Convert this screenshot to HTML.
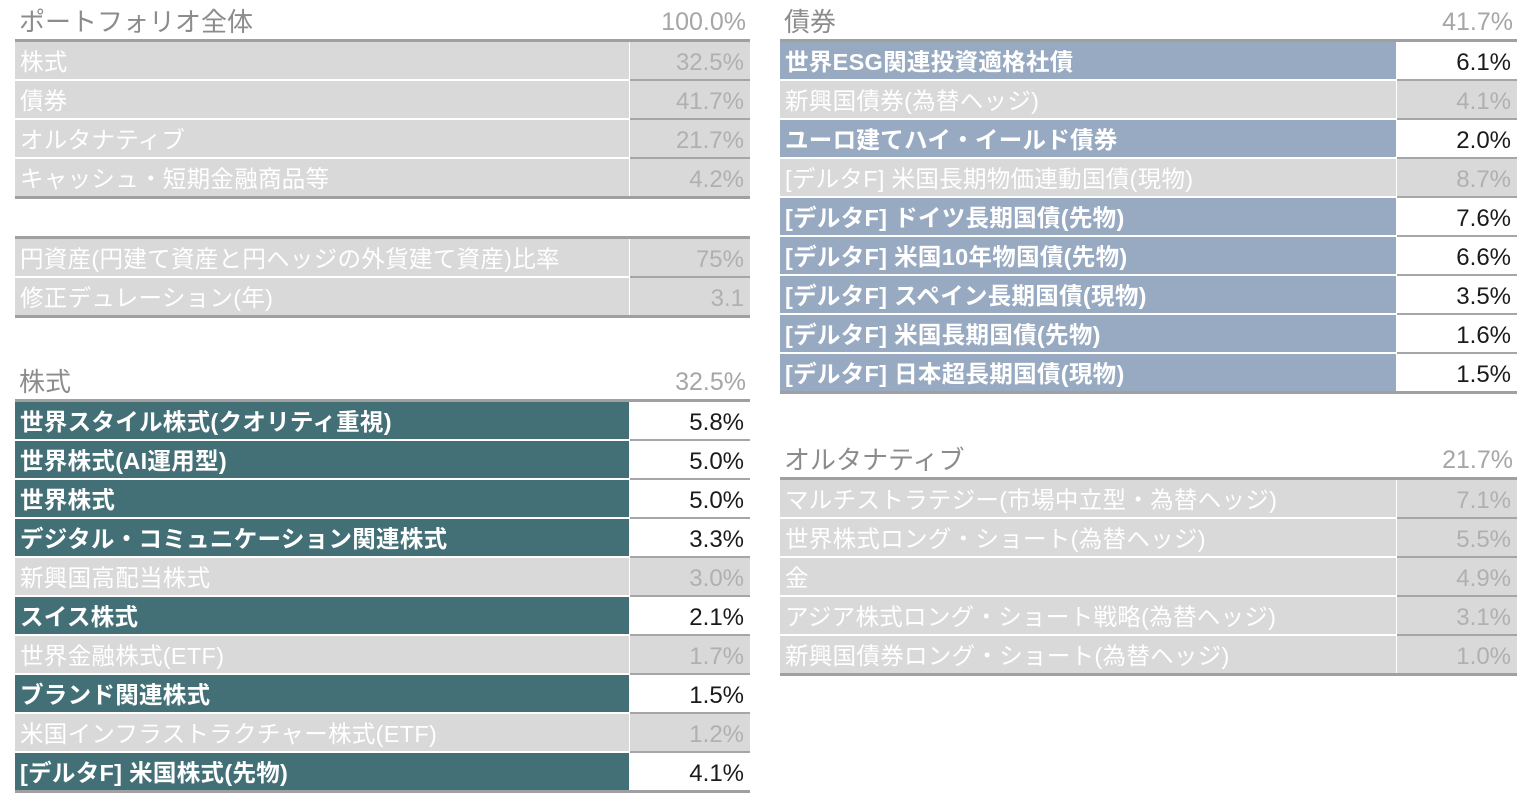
<!DOCTYPE html>
<html><head><meta charset="utf-8">
<style>
body{margin:0;width:1530px;height:802px;background:#fff;position:relative;overflow:hidden;font-family:"Liberation Sans Narrow","Liberation Sans","Noto Sans CJK JP",sans-serif;}
.a{position:absolute;box-sizing:border-box;white-space:nowrap;}
.hd{font-size:26px;color:#8c8c8c;line-height:30px;}
.hv{font-size:25px;color:#a6a6a6;line-height:30px;text-align:right;padding-right:4px;}
.ln{height:3px;background:#a0a0a0;}
.lab{font-size:23.5px;line-height:41px;padding-left:5px;color:#fff;letter-spacing:0.3px;}
.val{font-size:24px;line-height:41px;text-align:right;padding-right:6px;border-bottom:2px solid #a6a6a6;}
.g{background:#d9d9d9;}
.gv{background:#d9d9d9;color:#b0b0b0;}
.t{background:#437077;font-weight:bold;}
.s{background:#98aac2;font-weight:bold;}
.hv2{background:#fff;color:#1a1a1a;}
</style></head><body>
<div id="root"></div>
<script>
const pfLabels=["株式","債券","オルタナティブ","キャッシュ・短期金融商品等"];
const pfValues=["32.5%","41.7%","21.7%","4.2%"];
const exLabels=["円資産(円建て資産と円ヘッジの外貨建て資産)比率","修正デュレーション(年)"];
const exValues=["75%","3.1"];
const eqLabels=["世界スタイル株式(クオリティ重視)","世界株式(AI運用型)","世界株式","デジタル・コミュニケーション関連株式","新興国高配当株式","スイス株式","世界金融株式(ETF)","ブランド関連株式","米国インフラストラクチャー株式(ETF)","[デルタF] 米国株式(先物)"];
const eqValues=["5.8%","5.0%","5.0%","3.3%","3.0%","2.1%","1.7%","1.5%","1.2%","4.1%"];
const eqHi=[1,1,1,1,0,1,0,1,0,1];
const bdLabels=["世界ESG関連投資適格社債","新興国債券(為替ヘッジ)","ユーロ建てハイ・イールド債券","[デルタF] 米国長期物価連動国債(現物)","[デルタF] ドイツ長期国債(先物)","[デルタF] 米国10年物国債(先物)","[デルタF] スペイン長期国債(現物)","[デルタF] 米国長期国債(先物)","[デルタF] 日本超長期国債(現物)"];
const bdValues=["6.1%","4.1%","2.0%","8.7%","7.6%","6.6%","3.5%","1.6%","1.5%"];
const bdHi=[1,0,1,0,1,1,1,1,1];
const alLabels=["マルチストラテジー(市場中立型・為替ヘッジ)","世界株式ロング・ショート(為替ヘッジ)","金","アジア株式ロング・ショート戦略(為替ヘッジ)","新興国債券ロング・ショート(為替ヘッジ)"];
const alValues=["7.1%","5.5%","4.9%","3.1%","1.0%"];

const root=document.getElementById('root');
function el(cls,x,y,w,h,txt){const d=document.createElement('div');d.className='a '+cls;d.style.left=x+'px';d.style.top=y+'px';d.style.width=w+'px';if(h)d.style.height=h+'px';if(txt!==undefined)d.textContent=txt;root.appendChild(d);return d;}
function table(name,x,lw,lineY,title,total,labels,values,hi,hiCls){
  if(title){
    const h=el('hd',x+4,lineY-33,lw,30,title);
    
    
    const hv=el('hv',x+lw,lineY-33,120,30,total);
    
    
  }
  const l=el('ln',x,lineY-1,lw+120,3);
  
  
  labels.forEach((lab,i)=>{
    const y=lineY+2+i*39;
    const h=hi&&hi[i];
    const a=el('lab '+(h?hiCls:'g'),x,y,lw-1,37,lab);
    a.style.overflow='hidden';
    
    
    const v=el('val '+(h?'hv2':'gv'),x+lw,y,120,39,values[i]);
    v.style.overflow='hidden';
    
    
  });
  const b=el('ln',x,lineY+2+labels.length*39-2,lw+120,3);
  
  
}
table('portfolio',15,615,40,'ポートフォリオ全体','100.0%',pfLabels,pfValues,null,'');
table('currency',15,615,237,null,null,exLabels,exValues,null,'');
table('equity',15,615,400,'株式','32.5%',eqLabels,eqValues,eqHi,'t');
table('bond',780,617,40,'債券','41.7%',bdLabels,bdValues,bdHi,'s');
table('alternative',780,617,478,'オルタナティブ','21.7%',alLabels,alValues,null,'');
</script>
</body></html>
